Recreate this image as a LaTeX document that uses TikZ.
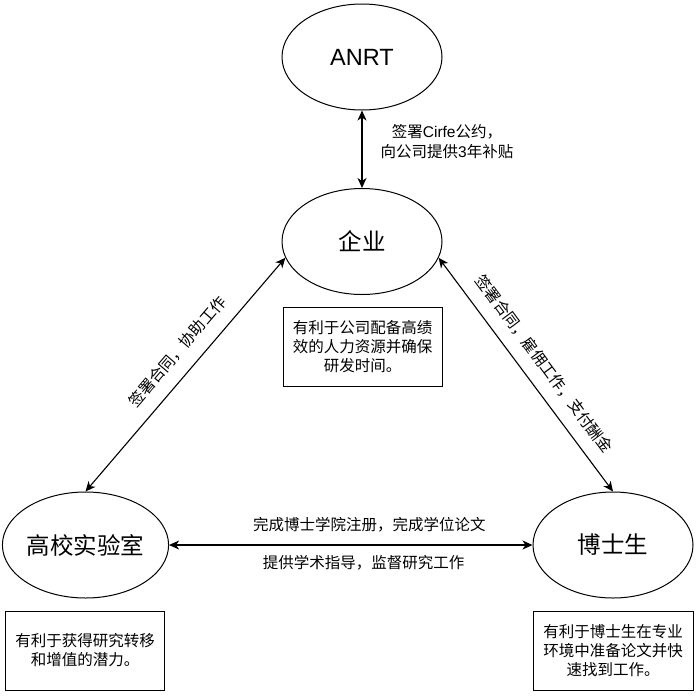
\documentclass[tikz,border=0pt]{standalone}
\usepackage{fontspec}
\setmainfont{Noto Sans CJK SC}
\newfontfamily\lat{Liberation Sans}
\usetikzlibrary{shapes.geometric,arrows.meta}
\tikzset{
  ell/.style={ellipse, draw, line width=1pt, minimum width=160pt, minimum height=106pt, inner sep=0pt,
              font=\fontsize{23.5}{26}\selectfont},
  infobox/.style={rectangle, draw, line width=1pt, minimum width=159pt, minimum height=79pt, inner sep=0pt,
              align=center, font=\fontsize{15.5}{19}\selectfont},
  conn/.style={line width=1.1pt, {Stealth[length=10pt,width=9pt,inset=3pt]}-{Stealth[length=10pt,width=9pt,inset=3pt]}},
  lbl/.style={inner sep=0pt, font=\fontsize{15.5}{20}\selectfont, align=center}
}
\begin{document}
\begin{tikzpicture}[x=1pt,y=-1pt]
\useasboundingbox (0,0) rectangle (700,696);
\node[ell] (anrt) at (362,57) {\lat ANRT};
\node[ell] (qiye) at (362,241.5) {企业};
\node[ell] (lab) at (85.5,545) {高校实验室};
\node[ell] (phd) at (613,545) {博士生};
\node[infobox] (boxq) at (362.5,347) {有利于公司配备高绩\\效的人力资源并确保\\研发时间。};
\node[infobox] (boxl) at (85,650.5) {有利于获得研究转移\\和增值的潜力。};
\node[infobox, minimum width=160pt] (boxp) at (613,650.5) {有利于博士生在专业\\环境中准备论文并快\\速找到工作。};
\draw[conn] (anrt) -- (qiye);
\node[lbl, anchor=center] (lblv) at (447,142) {签署{\lat Cirfe}公约，\\向公司提供{\lat 3}年补贴};
\draw[conn] (lab.north) -- (qiye.192) node[lbl, pos=0.54, sloped, above=13pt] (lbll) {签署合同，协助工作};
\draw[conn] (qiye.348) -- (phd.north) node[lbl, pos=0.508, sloped, above=13pt] (lblr) {签署合同，雇佣工作，支付酬金};
\draw[conn] (lab.east) -- (phd.west)
  node[lbl, pos=0.551, yshift=20pt] (lblh1) {完成博士学院注册，完成学位论文}
  node[lbl, pos=0.535, yshift=-18pt] (lblh2) {提供学术指导，监督研究工作};
\end{tikzpicture}
\end{document}
